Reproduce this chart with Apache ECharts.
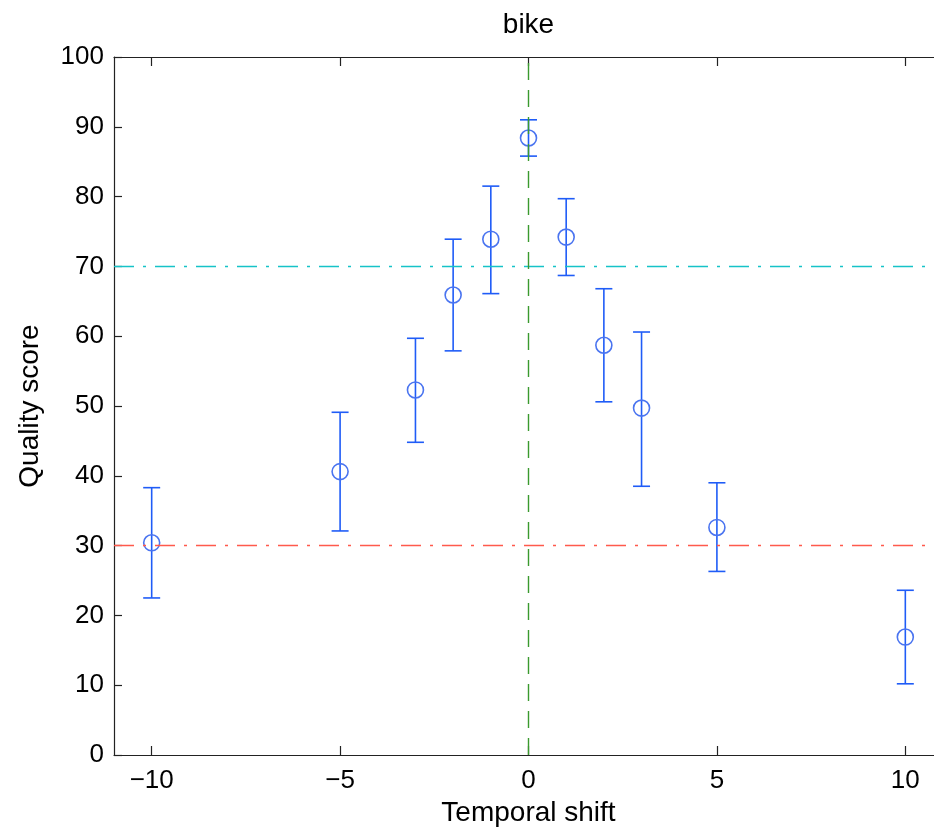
<!DOCTYPE html>
<html>
<head>
<meta charset="utf-8">
<script src="https://cdn.jsdelivr.net/npm/echarts@6/dist/echarts.min.js"></script>
<style>
html,body{margin:0;padding:0;background:#fff;}
#c{width:934px;height:829px;}
</style>
</head>
<body>
<div id="c"></div>
<script>
// Data
var shifts = [-10, -5, -3, -2, -1, 0, 1, 2, 3, 5, 10];
var means  = [30.4, 40.6, 52.3, 65.9, 73.9, 88.4, 74.2, 58.7, 49.7, 32.6, 16.9];
var lows   = [22.5, 32.1, 44.8, 57.9, 66.1, 85.8, 68.7, 50.6, 38.5, 26.3, 10.2];
var highs  = [38.3, 49.1, 59.7, 73.9, 81.5, 91.0, 79.7, 66.8, 60.6, 39.0, 23.6];
var xTicks = [-10, -5, 0, 5, 10];
var lowerRef = 30;
var upperRef = 70;
var centerRef = 0;

var FONT = 'Liberation Sans, Arial, Helvetica, sans-serif';
var BLUE = '#1f5cf7';

var chart = echarts.init(document.getElementById('c'), null, {renderer: 'canvas'});

var errData = shifts.map(function (s, i) { return [s, lows[i], highs[i]]; });
var ptData = shifts.map(function (s, i) { return [s, means[i]]; });

function minus(v) { return String(v).replace('-', '\u2212'); }

var axisLineStyle = {color: '#222', width: 1.2};

option = {
  animation: false,
  backgroundColor: '#fff',
  grid: {left: 114, top: 57, width: 829, height: 698, containLabel: false, outerBoundsMode: 'none'},
  xAxis: [{
    type: 'value', min: -11, max: 11, position: 'bottom',
    name: 'Temporal shift', nameLocation: 'middle', nameGap: 43,
    nameTextStyle: {fontFamily: FONT, fontSize: 28, color: '#000'},
    axisLine: {show: true, onZero: false, lineStyle: axisLineStyle},
    axisTick: {show: true, inside: true, length: 9, customValues: xTicks, lineStyle: axisLineStyle},
    axisLabel: {show: true, customValues: xTicks, margin: 13, fontFamily: FONT, fontSize: 26, color: '#000', formatter: minus},
    splitLine: {show: false}
  }, {
    type: 'value', min: -11, max: 11, position: 'top',
    name: 'bike', nameLocation: 'middle', nameGap: 18,
    nameTextStyle: {fontFamily: FONT, fontSize: 28, color: '#000'},
    axisLine: {show: true, onZero: false, lineStyle: axisLineStyle},
    axisTick: {show: true, inside: true, length: 9, customValues: xTicks, lineStyle: axisLineStyle},
    axisLabel: {show: false},
    splitLine: {show: false}
  }],
  yAxis: [{
    type: 'value', min: 0, max: 100, interval: 10, position: 'left',
    name: 'Quality score', nameLocation: 'middle', nameGap: 70, nameRotate: 90,
    nameTextStyle: {fontFamily: FONT, fontSize: 28, color: '#000'},
    axisLine: {show: true, onZero: false, lineStyle: axisLineStyle},
    axisTick: {show: true, inside: true, length: 8, lineStyle: axisLineStyle},
    axisLabel: {margin: 10, fontFamily: FONT, fontSize: 26, color: '#000'},
    splitLine: {show: false}
  }, {
    type: 'value', min: 0, max: 100, interval: 10, position: 'right',
    axisLine: {show: true, onZero: false, lineStyle: axisLineStyle},
    axisTick: {show: true, inside: true, length: 8, lineStyle: axisLineStyle},
    axisLabel: {show: false},
    splitLine: {show: false}
  }],
  series: [{
    type: 'scatter',
    xAxisIndex: 0, yAxisIndex: 0,
    data: [],
    silent: true,
    markLine: {
      silent: true, symbol: 'none', label: {show: false}, animation: false,
      data: [
        {yAxis: lowerRef, lineStyle: {color: '#ff5a4c', width: 1.4, type: [20, 9, 3, 9]}},
        {yAxis: upperRef, lineStyle: {color: '#16c3c8', width: 1.4, type: [20, 9, 3, 9]}},
        {xAxis: centerRef, lineStyle: {color: '#3a9a2e', width: 1.4, type: [17, 10]}}
      ]
    }
  }, {
    type: 'custom',
    xAxisIndex: 0, yAxisIndex: 0,
    data: errData,
    silent: true,
    renderItem: function (params, api) {
      var x = api.value(0);
      var lo = api.coord([x, api.value(1)]);
      var hi = api.coord([x, api.value(2)]);
      var hw = 8.5;
      var st = {stroke: BLUE, lineWidth: 1.6};
      return {
        type: 'group',
        children: [
          {type: 'line', shape: {x1: lo[0], y1: lo[1], x2: hi[0], y2: hi[1]}, style: st},
          {type: 'line', shape: {x1: lo[0] - hw, y1: lo[1], x2: lo[0] + hw, y2: lo[1]}, style: st},
          {type: 'line', shape: {x1: hi[0] - hw, y1: hi[1], x2: hi[0] + hw, y2: hi[1]}, style: st}
        ]
      };
    }
  }, {
    type: 'scatter',
    xAxisIndex: 0, yAxisIndex: 0,
    data: ptData,
    symbol: 'circle',
    symbolSize: 16,
    silent: true,
    itemStyle: {color: 'rgba(0,0,0,0)', borderColor: '#4a74f0', borderWidth: 1.6, opacity: 1}
  }]
};

chart.setOption(option);
</script>
</body>
</html>
